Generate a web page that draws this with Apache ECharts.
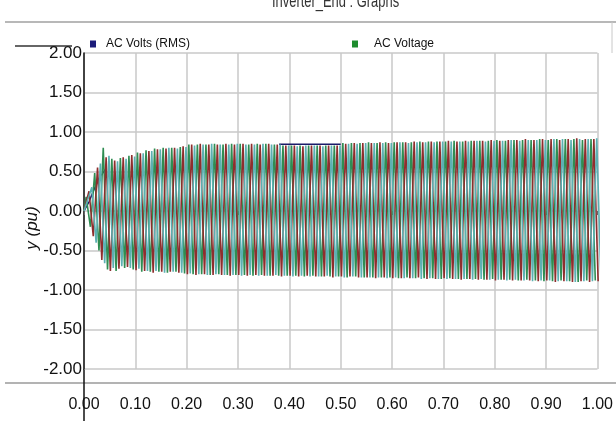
<!DOCTYPE html>
<html>
<head>
<meta charset="utf-8">
<script src="https://cdn.jsdelivr.net/npm/echarts@6/dist/echarts.min.js"></script>
<style>
html,body{margin:0;padding:0;background:#fff;}
#chart{width:616px;height:421px;}
</style>
</head>
<body>
<div id="chart"></div>
<script>
// ---- data ----
const titleText = 'Inverter_End : Graphs';
const yAxisTitle = 'y (pu)';
const rmsName = 'AC Volts (RMS)';
const acName = 'AC Voltage';
const yTicks = [-2, -1.5, -1, -0.5, 0, 0.5, 1, 1.5, 2];
const xTicks = [0, 0.1, 0.2, 0.3, 0.4, 0.5, 0.6, 0.7, 0.8, 0.9, 1.0];
const FREQ_HZ = 60;                       // cycles per second of the AC waveform
const phaseOffsets = [0, 1 / 3, 2 / 3];   // phase lag of phases A, B, C in cycles

// AC Volts (RMS) — only the parts visible in the picture (null = hidden behind the waveform)
const rmsTime  = [0, 0.01, 0.02, 0.03, 0.042, 0.2, 0.38, 0.50];
const rmsValue = [0, 0.12, 0.28, 0.42, 0.53, null, 0.845, 0.845];

// AC Voltage, per cycle positive peak and negative trough of each phase
const phaseA_peaks = [0.18,0.48,0.80,0.66,0.67,0.70,0.74,0.77,0.79,0.80, 0.80,0.81,0.84,0.84,0.84,0.85,0.84,0.85,0.85,0.84, 0.85,0.85,0.84,0.83,0.83,0.83,0.83,0.83,0.83,0.83, 0.86,0.86,0.86,0.87,0.86,0.87,0.87,0.87,0.87,0.88, 0.88,0.88,0.88,0.89,0.88,0.89,0.89,0.89,0.90,0.89, 0.90,0.90,0.90,0.91,0.90,0.91,0.91,0.91,0.90,0.91];
const phaseA_troughs = [-0.20,-0.50,-0.74,-0.76,-0.72,-0.74,-0.77,-0.77,-0.77,-0.78, -0.77,-0.79,-0.80,-0.80,-0.81,-0.80,-0.81,-0.81,-0.81,-0.82, -0.81,-0.82,-0.82,-0.82,-0.82,-0.83,-0.82,-0.83,-0.83,-0.83, -0.84,-0.83,-0.84,-0.84,-0.84,-0.84,-0.85,-0.84,-0.85,-0.85, -0.85,-0.86,-0.85,-0.86,-0.86,-0.86,-0.87,-0.86,-0.87,-0.87, -0.88,-0.87,-0.88,-0.89,-0.89,-0.88,-0.89,-0.90,-0.88,-0.88];
const phaseB_peaks = [0.25,0.55,0.68,0.64,0.68,0.71,0.73,0.76,0.78,0.79, 0.80,0.82,0.84,0.85,0.84,0.84,0.85,0.84,0.85,0.85, 0.84,0.85,0.84,0.83,0.83,0.82,0.83,0.83,0.83,0.83, 0.85,0.86,0.86,0.86,0.87,0.86,0.87,0.87,0.88,0.87, 0.88,0.88,0.89,0.88,0.89,0.89,0.89,0.90,0.89,0.90, 0.90,0.91,0.90,0.91,0.91,0.90,0.91,0.92,0.91,0.91];
const phaseB_troughs = [-0.32,-0.62,-0.76,-0.73,-0.71,-0.75,-0.76,-0.78,-0.77,-0.77, -0.78,-0.80,-0.81,-0.80,-0.81,-0.81,-0.82,-0.81,-0.82,-0.81, -0.82,-0.82,-0.83,-0.82,-0.83,-0.82,-0.83,-0.83,-0.84,-0.83, -0.83,-0.84,-0.84,-0.85,-0.84,-0.85,-0.85,-0.85,-0.84,-0.86, -0.86,-0.85,-0.86,-0.87,-0.86,-0.87,-0.87,-0.88,-0.87,-0.88, -0.88,-0.88,-0.89,-0.88,-0.90,-0.89,-0.90,-0.89,-0.90,-0.89];
const phaseC_peaks = [0.30,0.60,0.70,0.63,0.66,0.69,0.73,0.76,0.78,0.80, 0.79,0.81,0.83,0.84,0.85,0.84,0.84,0.85,0.84,0.84, 0.85,0.84,0.84,0.83,0.82,0.83,0.83,0.82,0.83,0.83, 0.85,0.85,0.86,0.86,0.86,0.86,0.87,0.86,0.87,0.87, 0.87,0.88,0.88,0.88,0.88,0.89,0.88,0.89,0.89,0.90, 0.89,0.90,0.90,0.90,0.91,0.91,0.90,0.91,0.91,0.92];
const phaseC_troughs = [-0.40,-0.66,-0.72,-0.70,-0.72,-0.73,-0.76,-0.76,-0.78,-0.77, -0.78,-0.79,-0.80,-0.81,-0.80,-0.81,-0.81,-0.82,-0.81,-0.82, -0.82,-0.81,-0.82,-0.83,-0.82,-0.83,-0.83,-0.82,-0.83,-0.84, -0.83,-0.84,-0.84,-0.84,-0.85,-0.84,-0.85,-0.85,-0.86,-0.85, -0.86,-0.86,-0.86,-0.86,-0.87,-0.86,-0.87,-0.87,-0.88,-0.87, -0.88,-0.89,-0.88,-0.88,-0.89,-0.89,-0.90,-0.89,-0.89,-0.90];

const phaseColors = ['#2f8d52', '#8e2e2e', '#5cb0b2'];

// ---- build series data ----
function buildPhase(peaks, troughs, offset) {
  const pts = [[0, 0]];
  for (let k = 0; k < peaks.length; k++) {
    pts.push([(k + 0.25 + offset) / FREQ_HZ, peaks[k]]);
    pts.push([(k + 0.75 + offset) / FREQ_HZ, troughs[k]]);
  }
  return pts;
}
const phases = [
  buildPhase(phaseA_peaks, phaseA_troughs, phaseOffsets[0]),
  buildPhase(phaseB_peaks, phaseB_troughs, phaseOffsets[1]),
  buildPhase(phaseC_peaks, phaseC_troughs, phaseOffsets[2])
];
const rmsData = rmsTime.map((t, i) => [t, rmsValue[i] === null ? '-' : rmsValue[i]]);

const FONT = "'Liberation Sans', Arial, sans-serif";

const chart = echarts.init(document.getElementById('chart'), null, {renderer: 'canvas'});
const option = {
  backgroundColor: '#ffffff',
  animation: false,
  grid: {left: 84, right: 8, top: 53, bottom: 52, containLabel: false},
  legend: [
    {
      left: 85, top: 33, icon: 'rect', itemWidth: 6, itemHeight: 7,
      selectedMode: false,
      data: [{name: rmsName, itemStyle: {color: '#1c1c7a'}}],
      textStyle: {fontFamily: FONT, fontSize: 12, color: '#111', padding: [0, 0, 0, 5]}
    },
    {
      left: 347, top: 33, icon: 'rect', itemWidth: 6, itemHeight: 7,
      selectedMode: false,
      data: [{name: acName, itemStyle: {color: '#1e8c2e'}}],
      textStyle: {fontFamily: FONT, fontSize: 12, color: '#111', padding: [0, 0, 0, 11]}
    }
  ],
  xAxis: {
    type: 'value', min: 0, max: 1, interval: 0.1, offset: 20,
    axisLine: {show: false},
    axisTick: {show: true, length: 4, lineStyle: {color: '#666', width: 1}},
    axisLabel: {margin: 8, fontSize: 16, color: '#111', fontFamily: FONT,
      formatter: v => v.toFixed(2)},
    splitLine: {show: true, lineStyle: {color: '#c8c8c8', width: 1.5}}
  },
  yAxis: {
    type: 'value', min: -2, max: 2, interval: 0.5,
    axisLine: {show: true, lineStyle: {color: '#111', width: 1.5}},
    axisTick: {show: false},
    axisLabel: {margin: 2, fontSize: 17, color: '#111', fontFamily: FONT,
      formatter: v => v.toFixed(2)},
    splitLine: {show: true, lineStyle: {color: '#c8c8c8', width: 1.5}}
  },
  series: [
    {name: rmsName, type: 'line', data: rmsData, showSymbol: false, symbol: 'none', connectNulls: false,
      lineStyle: {color: '#1c1c6a', width: 1.5}, itemStyle: {color: '#1c1c7a'}, z: 1}
  ].concat(phases.map((d, i) => ({
    name: acName, type: 'line', data: d, showSymbol: false, symbol: 'none',
    lineStyle: {color: phaseColors[i], width: 1.6}, itemStyle: {color: '#1e8c2e'}, z: 2
  }))),
  graphic: [
    {type: 'text', x: 272, y: -8, scaleX: 0.68, style: {text: titleText, fontFamily: FONT, fontSize: 19, fill: '#333'}, z: 10},
    {type: 'text', x: 32, y: 228, rotation: Math.PI / 2,
      style: {text: yAxisTitle, fontFamily: FONT, fontSize: 17, fontStyle: 'italic', fill: '#111', align: 'center', verticalAlign: 'middle'}},
    {type: 'line', shape: {x1: 5, y1: 22, x2: 616, y2: 22}, style: {stroke: '#a0a0a0', lineWidth: 1.5}},
    {type: 'line', shape: {x1: 612, y1: 22, x2: 612, y2: 53}, style: {stroke: '#c8c8c8', lineWidth: 1}},
    {type: 'line', shape: {x1: 15, y1: 46, x2: 72, y2: 46}, style: {stroke: '#333', lineWidth: 1.5}},
    {type: 'line', shape: {x1: 5, y1: 383, x2: 616, y2: 383}, style: {stroke: '#9a9a9a', lineWidth: 1.5}},
    {type: 'line', shape: {x1: 84, y1: 369, x2: 84, y2: 421}, style: {stroke: '#111', lineWidth: 1.5}}
  ]
};
chart.setOption(option);
</script>
</body>
</html>
